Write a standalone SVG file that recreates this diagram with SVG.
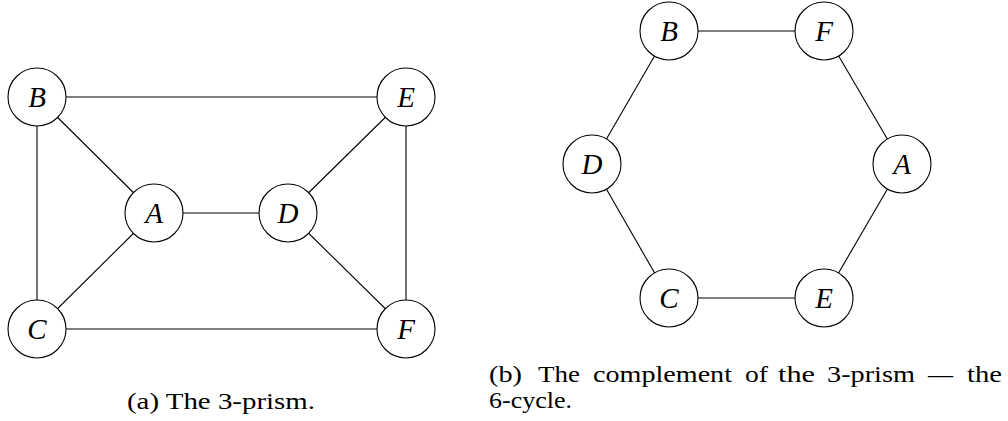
<svg xmlns="http://www.w3.org/2000/svg" width="1008" height="421" viewBox="0 0 1008 421">
  <style>
    .edge { stroke: #000; stroke-width: 1.1; fill: none; }
    .node circle { fill: #fff; stroke: #000; stroke-width: 1.1; }
    .node text { font-family: "Liberation Serif", "DejaVu Serif", serif; font-style: italic; font-size: 29px; text-anchor: middle; dominant-baseline: central; fill: #000; }
    .caption { font-family: "Liberation Serif", "DejaVu Serif", serif; font-size: 23px; fill: #000; }
  </style>
  <rect width="1008" height="421" fill="#fff"/>

  <!-- (a) 3-prism: edges -->
  <g id="edges-prism">
    <line class="edge" x1="37" y1="97" x2="406" y2="97"/>
    <line class="edge" x1="37" y1="97" x2="37" y2="329"/>
    <line class="edge" x1="37" y1="97" x2="154" y2="213"/>
    <line class="edge" x1="154" y1="213" x2="288" y2="213"/>
    <line class="edge" x1="154" y1="213" x2="37" y2="329"/>
    <line class="edge" x1="37" y1="329" x2="406" y2="329"/>
    <line class="edge" x1="406" y1="97" x2="406" y2="329"/>
    <line class="edge" x1="406" y1="97" x2="288" y2="213"/>
    <line class="edge" x1="288" y1="213" x2="406" y2="329"/>
  </g>

  <!-- (a) 3-prism: nodes -->
  <g id="a-B" class="node"><circle cx="37" cy="97" r="29"/><text x="37" y="97">B</text></g>
  <g id="a-E" class="node"><circle cx="406" cy="97" r="29"/><text x="406" y="97">E</text></g>
  <g id="a-A" class="node"><circle cx="154" cy="213" r="29"/><text x="154" y="213">A</text></g>
  <g id="a-D" class="node"><circle cx="288" cy="213" r="29"/><text x="288" y="213">D</text></g>
  <g id="a-C" class="node"><circle cx="37" cy="329" r="29"/><text x="37" y="329">C</text></g>
  <g id="a-F" class="node"><circle cx="406" cy="329" r="29"/><text x="406" y="329">F</text></g>

  <!-- (b) 6-cycle: edges -->
  <g id="edges-cycle">
    <line class="edge" x1="669" y1="31" x2="824" y2="31"/>
    <line class="edge" x1="824" y1="31" x2="902" y2="164"/>
    <line class="edge" x1="902" y1="164" x2="824" y2="298"/>
    <line class="edge" x1="824" y1="298" x2="669" y2="298"/>
    <line class="edge" x1="669" y1="298" x2="592" y2="164"/>
    <line class="edge" x1="592" y1="164" x2="669" y2="31"/>
  </g>

  <!-- (b) 6-cycle: nodes -->
  <g id="b-B" class="node"><circle cx="669" cy="31" r="29"/><text x="669" y="31">B</text></g>
  <g id="b-F" class="node"><circle cx="824" cy="31" r="29"/><text x="824" y="31">F</text></g>
  <g id="b-D" class="node"><circle cx="592" cy="164" r="29"/><text x="592" y="164">D</text></g>
  <g id="b-A" class="node"><circle cx="902" cy="164" r="29"/><text x="902" y="164">A</text></g>
  <g id="b-C" class="node"><circle cx="669" cy="298" r="29"/><text x="669" y="298">C</text></g>
  <g id="b-E" class="node"><circle cx="824" cy="298" r="29"/><text x="824" y="298">E</text></g>

  <!-- captions -->
  <text class="caption" x="127" y="409" textLength="188" lengthAdjust="spacingAndGlyphs">(a) The 3-prism.</text>
  <!-- justified first line: each word placed on its own -->
  <text class="caption" y="382">
    <tspan x="489" textLength="33" lengthAdjust="spacingAndGlyphs">(b)</tspan>
    <tspan x="538" textLength="42" lengthAdjust="spacingAndGlyphs">The</tspan>
    <tspan x="593" textLength="139" lengthAdjust="spacingAndGlyphs">complement</tspan>
    <tspan x="745" textLength="23" lengthAdjust="spacingAndGlyphs">of</tspan>
    <tspan x="778" textLength="37" lengthAdjust="spacingAndGlyphs">the</tspan>
    <tspan x="827" textLength="88" lengthAdjust="spacingAndGlyphs">3-prism</tspan>
    <tspan x="928" textLength="25" lengthAdjust="spacingAndGlyphs">—</tspan>
    <tspan x="967" textLength="35" lengthAdjust="spacingAndGlyphs">the</tspan>
  </text>
  <text class="caption" x="489" y="408" textLength="83" lengthAdjust="spacingAndGlyphs">6-cycle.</text>
</svg>
